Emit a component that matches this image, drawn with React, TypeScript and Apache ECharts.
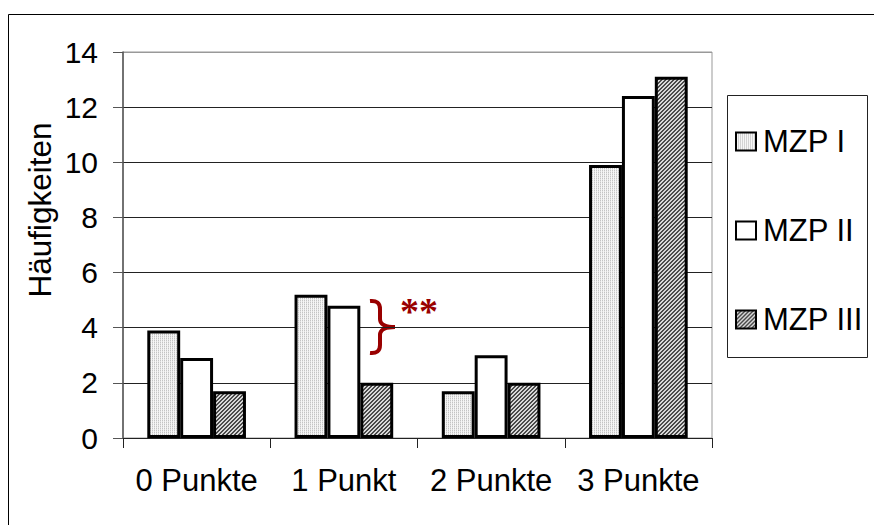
import React, { useEffect, useRef } from "react";
import * as echarts from "echarts";

const categories = ["0 Punkte", "1 Punkt", "2 Punkte", "3 Punkte"];
const seriesNames = ["MZP I", "MZP II", "MZP III"];
const mzp1 = [3.9, 5.2, 1.7, 9.9];
const mzp2 = [2.9, 4.8, 3.0, 12.4];
const mzp3 = [1.7, 2.0, 2.0, 13.1];
const yTicks = { min: 0, max: 14, interval: 2 };
const yTitle = "Häufigkeiten";
const annotation = "**";

function makePattern(kind: "dots" | "hatch"): HTMLCanvasElement {
  const c = document.createElement("canvas");
  c.width = 4;
  c.height = 4;
  const ctx = c.getContext("2d")!;
  ctx.fillStyle = "#ffffff";
  ctx.fillRect(0, 0, 4, 4);
  for (let x = 0; x < 4; x++) {
    for (let y = 0; y < 4; y++) {
      if (kind === "dots") {
        if (x % 2 === 0) {
          ctx.fillStyle = y % 2 === 0 ? "#c4c4c4" : "#e2e2e2";
        } else {
          ctx.fillStyle = "#f6f6f6";
        }
      } else {
        ctx.fillStyle = (x + y) % 4 < 2 ? "#4a4a4a" : "#d8d8d8";
      }
      ctx.fillRect(x, y, 1, 1);
    }
  }
  return c;
}

const bracePath =
  "M0,2 Q10,1 10,10 L10,20 Q10,28 25,28 Q10,28 10,36 L10,46 Q10,55 0,54";

export default function App() {
  const ref = useRef<HTMLDivElement>(null);
  useEffect(() => {
    if (!ref.current) return;
    try {
      echarts.graphic.registerShape("brace", echarts.graphic.extendPath(bracePath, {}) as any);
    } catch (e) {}
    const chart = echarts.init(ref.current, undefined, { renderer: "svg" });
    const dots = { image: makePattern("dots"), repeat: "repeat" };
    const hatch = { image: makePattern("hatch"), repeat: "repeat" };
    const fills = [dots, "#ffffff", hatch];
    const datas = [mzp1, mzp2, mzp3];
    const font = "Liberation Sans";
    const gridColors = ["#222", "#222", "#222", "#222", "#222", "#222", "#222", "#999"];
    chart.setOption({
      animation: false,
      backgroundColor: "#fff",
      grid: { left: 123, right: 162, top: 52, bottom: 87, show: true, borderColor: "#999", borderWidth: 1 },
      legend: {
        orient: "vertical",
        left: 735,
        top: 126,
        padding: 0,
        itemWidth: 20,
        itemHeight: 18,
        itemGap: 58,
        icon: "rect",
        data: seriesNames,
        itemStyle: { borderWidth: 2, borderColor: "#000" },
        textStyle: { fontSize: 31, fontFamily: font, color: "#000", padding: [0, 0, 0, 2] },
      },
      xAxis: {
        type: "category",
        data: categories,
        axisLine: { show: true, lineStyle: { color: "#222", width: 1 } },
        axisTick: { show: true, length: 10, alignWithLabel: false, interval: 0, lineStyle: { color: "#222" } },
        axisLabel: { fontSize: 31, fontFamily: font, color: "#000", margin: 27, interval: 0 },
        splitLine: { show: false },
      },
      yAxis: {
        type: "value",
        min: yTicks.min,
        max: yTicks.max,
        interval: yTicks.interval,
        axisLine: { show: true, lineStyle: { color: "#555", width: 1.5 } },
        axisTick: { show: true, length: 10, inside: false, lineStyle: { color: "#555" } },
        axisLabel: { fontSize: 30, fontFamily: font, color: "#000", margin: 25 },
        splitLine: { show: true, lineStyle: { color: gridColors, width: 1 } },
      },
      series: seriesNames.map((name, i) => ({
        name,
        type: "bar",
        data: datas[i],
        barGap: "0%",
        barCategoryGap: "33%",
        itemStyle: { color: fills[i], borderColor: "#000", borderWidth: 3 },
      })),
      graphic: [
        {
          type: "rect",
          shape: { x: 8.5, y: 14.5, width: 1000, height: 1000 },
          style: { fill: "none", stroke: "#000", lineWidth: 1 },
          silent: true,
        },
        {
          type: "rect",
          shape: { x: 727.5, y: 95.5, width: 140, height: 262 },
          style: { fill: "none", stroke: "#222", lineWidth: 1 },
          silent: true,
        },
        {
          type: "text",
          x: 40,
          y: 210,
          rotation: Math.PI / 2,
          style: {
            text: yTitle,
            fontSize: 31.5,
            fontFamily: font,
            fill: "#000",
            align: "center",
            verticalAlign: "middle",
          },
        },
        {
          type: "brace",
          x: 370,
          y: 299,
          shape: {},
          style: { fill: "none", stroke: "#990000", lineWidth: 4 },
        },
        {
          type: "text",
          x: 400,
          y: 292,
          style: {
            text: annotation,
            fontSize: 38,
            fontWeight: "bold",
            fontFamily: "Liberation Serif",
            fill: "#990000",
            align: "left",
            verticalAlign: "top",
          },
        },
      ],
    });
    return () => chart.dispose();
  }, []);
  return (
    <div
      ref={ref}
      style={{ position: "absolute", left: 0, top: 0, width: 874, height: 525 }}
    />
  );
}
